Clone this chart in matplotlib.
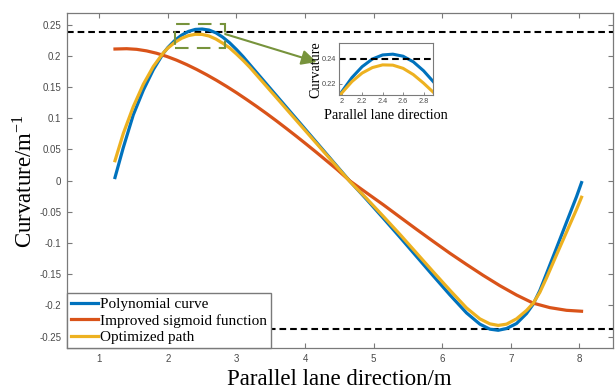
import matplotlib
matplotlib.use("Agg")
import matplotlib.pyplot as plt
from matplotlib.patches import Rectangle
from matplotlib.ticker import FormatStrFormatter

plt.rcParams["axes.unicode_minus"] = False
plt.rcParams["mathtext.fontset"] = "stix"

# ---- curvature profiles along the parallel lane direction ----
x_poly = [1.229, 1.350, 1.496, 1.642, 1.788, 1.933, 2.0, 2.1, 2.2, 2.3, 2.4, 2.5,
          2.6, 2.7, 2.8, 2.9, 3.0, 3.1, 3.197, 3.343, 3.488, 3.634, 3.780, 3.926,
          4.071, 4.217, 4.363, 4.509, 4.655, 4.897, 5.140, 5.383, 5.626, 5.869,
          6.112, 6.355, 6.550, 6.695, 6.817, 6.938, 7.084, 7.230, 7.327, 7.424,
          7.521, 7.667, 7.813, 7.959, 8.032]
k_poly = [0.0050, 0.0530, 0.1056, 0.1450, 0.1779, 0.2040, 0.2134, 0.2246, 0.2332,
          0.2392, 0.2424, 0.2430, 0.2414, 0.2370, 0.2300, 0.2210, 0.2102, 0.1984,
          0.1858, 0.1671, 0.1485, 0.1298, 0.1111, 0.0924, 0.0738, 0.0551, 0.0364,
          0.0177, -0.0010, -0.0300, -0.0600, -0.0905, -0.1215, -0.1525, -0.1830,
          -0.2120, -0.2300, -0.2380, -0.2398, -0.2370, -0.2290, -0.2130, -0.1980,
          -0.1760, -0.1490, -0.1080, -0.0667, -0.0256, -0.0031]

x_opt = [1.229, 1.350, 1.496, 1.642, 1.788, 1.933, 2.0, 2.1, 2.2, 2.3, 2.4, 2.5,
         2.6, 2.7, 2.8, 2.9, 3.0, 3.1, 3.197, 3.343, 3.488, 3.634, 3.780, 3.926,
         4.071, 4.217, 4.363, 4.509, 4.655, 4.897, 5.140, 5.383, 5.626, 5.869,
         6.112, 6.355, 6.550, 6.695, 6.817, 6.938, 7.084, 7.230, 7.327, 7.424,
         7.521, 7.667, 7.813, 7.959, 8.032]
k_opt = [0.0320, 0.0756, 0.1187, 0.1545, 0.1830, 0.2048, 0.2125, 0.2215, 0.2282,
         0.2325, 0.2346, 0.2344, 0.2319, 0.2270, 0.2203, 0.2128, 0.2030, 0.1925,
         0.1815, 0.1632, 0.1450, 0.1267, 0.1083, 0.0900, 0.0718, 0.0535, 0.0352,
         0.0168, -0.0015, -0.0285, -0.0570, -0.0860, -0.1160, -0.1460, -0.1755,
         -0.2040, -0.2215, -0.2295, -0.2320, -0.2300, -0.2215, -0.2080, -0.1965,
         -0.1790, -0.1560, -0.1190, -0.0825, -0.0460, -0.0266]

x_sig = [1.229, 1.399, 1.545, 1.690, 1.836, 1.982, 2.128, 2.273, 2.419, 2.565,
         2.711, 2.857, 3.003, 3.148, 3.294, 3.440, 3.586, 3.731, 3.877, 4.023,
         4.169, 4.314, 4.460, 4.655, 4.897, 5.140, 5.383, 5.626, 5.869, 6.112,
         6.355, 6.598, 6.841, 7.084, 7.327, 7.570, 7.813, 8.032]
k_sig = [0.2110, 0.2115, 0.2105, 0.2080, 0.2042, 0.1992, 0.1931, 0.1861, 0.1783,
         0.1698, 0.1607, 0.1510, 0.1408, 0.1301, 0.1190, 0.1075, 0.0956, 0.0834,
         0.0709, 0.0581, 0.0451, 0.0319, 0.0186, -0.0005, -0.0195, -0.0385,
         -0.0583, -0.0780, -0.0973, -0.1163, -0.1343, -0.1518, -0.1683, -0.1833,
         -0.1963, -0.2035, -0.2078, -0.2093]

k_limit_upper = 0.238
k_limit_lower = -0.237

labels = ["Polynomial curve", "Improved sigmoid function", "Optimized path"]
colors = ["#0072BD", "#D95319", "#EDB120"]

x_ticks = [1, 2, 3, 4, 5, 6, 7, 8]
y_ticks = [-0.25, -0.2, -0.15, -0.1, -0.05, 0, 0.05, 0.1, 0.15, 0.2, 0.25]
inset_x_ticks = [2, 2.2, 2.4, 2.6, 2.8]
inset_y_ticks = [0.22, 0.24]

SERIF = "Liberation Serif"
SANS = "Liberation Sans"
AX_GREY = "#7a7a7a"
TXT_GREY = "#4a4a4a"
GREEN = "#77933C"

fig = plt.figure(figsize=(6.16, 3.91), dpi=100)
ax = fig.add_axes([0.1083, 0.1092, 0.8864, 0.8583])

lw = 2.3
ax.plot(x_poly, k_poly, color=colors[0], lw=lw, label=labels[0], zorder=3)
ax.plot(x_sig, k_sig, color=colors[1], lw=lw, label=labels[1], zorder=3)
ax.plot(x_opt, k_opt, color=colors[2], lw=lw, label=labels[2], zorder=3)

dash = (0, (3.2, 1.9))
ax.axhline(k_limit_upper, color="black", lw=1.5, ls=dash, zorder=2)
ax.axhline(k_limit_lower, color="black", lw=1.5, ls=dash, zorder=2)

ax.set_xlim(0.525, 8.487)
ax.set_ylim(-0.2687, 0.2692)
ax.set_xticks(x_ticks)
ax.set_yticks(y_ticks)
ax.yaxis.set_major_formatter(FormatStrFormatter("%g"))
ax.tick_params(direction="in", length=3.5, width=0.8, color=AX_GREY,
               labelcolor=TXT_GREY, labelsize=7, top=True, right=True, pad=4)
for lab in ax.get_xticklabels() + ax.get_yticklabels():
    lab.set_fontfamily(SANS)
for sp in ax.spines.values():
    sp.set_color(AX_GREY)
    sp.set_linewidth(0.9)

ax.set_xlabel("Parallel lane direction/m", fontfamily=SERIF, fontsize=16.5,
              labelpad=4)
ax.set_ylabel("Curvature/m$^{\\mathregular{-1}}$", fontfamily=SERIF, fontsize=16.5,
              labelpad=2)

leg = ax.legend(loc="lower left", borderaxespad=0, prop={"family": SERIF, "size": 11},
                handlelength=1.8, handletextpad=0.15, labelspacing=0.2,
                borderpad=0.25, fancybox=False, framealpha=1)
leg.get_frame().set_edgecolor(AX_GREY)
leg.get_frame().set_linewidth(1.0)

# zoom window around the first curvature peak
ax.add_patch(Rectangle((2.106, 0.2131), 0.729, 0.0375, fill=False,
                       edgecolor=GREEN, lw=1.5, ls=(0, (6.5, 4.0)), zorder=4))
ax.annotate("", xy=(4.17, 0.1902), xytext=(2.835, 0.2350),
            arrowprops=dict(arrowstyle="-|>,head_length=0.9,head_width=0.45",
                            color=GREEN, lw=1.5, shrinkA=0, shrinkB=0), zorder=4)

# inset: close-up of the peak
axin = fig.add_axes([0.5508, 0.757, 0.1526, 0.1322])
axin.plot(x_poly, k_poly, color=colors[0], lw=2.2)
axin.plot(x_opt, k_opt, color=colors[2], lw=2.2)
axin.axhline(0.239, color="black", lw=1.5, ls=dash)
axin.set_xlim(1.977, 2.895)
axin.set_ylim(0.211, 0.2515)
axin.set_xticks(inset_x_ticks)
axin.set_yticks(inset_y_ticks)
axin.xaxis.set_major_formatter(FormatStrFormatter("%g"))
axin.yaxis.set_major_formatter(FormatStrFormatter("%g"))
axin.tick_params(direction="in", length=2, width=0.6, color=AX_GREY,
                 labelcolor=TXT_GREY, labelsize=5.3, pad=2)
for lab in axin.get_xticklabels() + axin.get_yticklabels():
    lab.set_fontfamily(SANS)
for sp in axin.spines.values():
    sp.set_color(AX_GREY)
    sp.set_linewidth(0.8)
axin.set_xlabel("Parallel lane direction", fontfamily=SERIF, fontsize=10.2,
                labelpad=3)
axin.set_ylabel("Curvature", fontfamily=SERIF, fontsize=10.2, labelpad=-0.5)

fig.savefig("out.png", dpi=100)
